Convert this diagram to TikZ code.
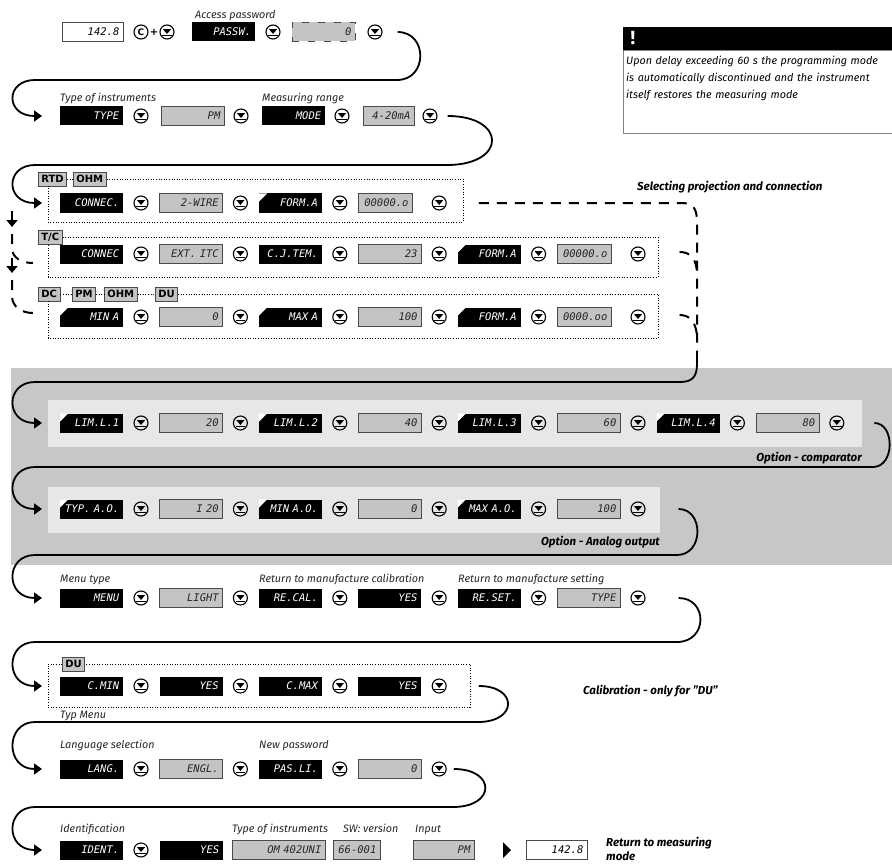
\documentclass[tikz,border=0pt]{standalone}
\usepackage{fontspec}
\setmainfont{Fira Sans}
\newfontfamily\segfont{DejaVu Sans Mono}
\newfontfamily\tagfont{DejaVu Sans}
\usetikzlibrary{
  arrows.meta,
  positioning,
  }

\definecolor{bandgray}{HTML}{C6C7C9}
\definecolor{bandlight}{HTML}{E6E7E8}
\definecolor{boxgray}{HTML}{C3C4C6}
\definecolor{boxedge}{HTML}{4A4A4A}

\begin{document}
\begin{tikzpicture}[x=1pt, y=-1pt,
    disp/.style={rectangle, anchor=west, minimum height=19pt, inner xsep=4pt, inner ysep=0pt,
      text width=#1, align=right, font=\segfont\itshape\fontsize{10.5}{10.5}\selectfont},
    disp/.default=55pt,
    blk/.style={disp=#1, fill=black, text=white},
    blk/.default=55pt,
    crn/.style={path picture={\fill[white] (path picture bounding box.north west)
      -- ++(8pt,0) -- ++(-8pt,-8pt) -- cycle;}},
    blkc/.style={blk=#1, crn},
    blkc/.default=55pt,
    gry/.style={disp=#1, fill=boxgray, draw=boxedge, line width=0.7pt, text=black!85},
    gry/.default=55pt,
    gryn/.style={gry=46pt},
    wht/.style={disp=#1, fill=white, draw=boxedge, line width=0.7pt},
    wht/.default=53pt,
    btn/.style={circle, draw, line width=1.1pt, minimum size=14pt, inner sep=0pt,
      path picture={
        \fill ([shift={(-4pt,2.8pt)}]path picture bounding box.center) -- ++(8pt,0) -- ++(-4pt,-4.8pt) -- cycle;
        \fill ([shift={(-4.8pt,-2.8pt)}]path picture bounding box.center) rectangle ++(9.6pt,-1.6pt);}},
    tag/.style={draw=boxedge, fill=boxgray, line width=0.7pt, anchor=west, inner xsep=3pt, inner ysep=0pt,
      minimum height=14pt, font=\tagfont\bfseries\fontsize{10}{10}\selectfont},
    frm/.style={line width=0.8pt, dash pattern=on 0.8pt off 1.8pt},
    lbl/.style={anchor=base west, inner sep=0pt, text=black!85, font=\itshape\fontsize{10.8}{12}\selectfont},
    note/.style={inner sep=0pt, font=\bfseries\itshape\fontsize{11.5}{15}\selectfont},
    conn/.style={line width=1.8pt, -{Triangle[length=8pt,width=11pt]}},
    arr/.style={line width=1.8pt, -{Triangle[length=7pt,width=11pt]}},
    dsh/.style={line width=2pt, dash pattern=on 10pt off 8pt},
  ]
\useasboundingbox (0,0) rectangle (892,864);

% option bands
\fill[bandgray] (11,368) rectangle (892,565);
\fill[bandlight] (48,400) rectangle (862,447);
\fill[bandlight] (48,487) rectangle (660,533);

% warning
\node[fill=black, anchor=north west, minimum width=269pt, minimum height=23pt, inner sep=0pt] (warnhd) at (623,27) {};
\node[text=white, anchor=west, font=\bfseries\fontsize{19}{19}\selectfont] (bang) at (627,38) {!};
\draw[gray, line width=0.8pt] (warnhd.south west) rectangle (892,133);
\node[anchor=north west, text width=262pt, align=left, inner sep=0pt,
  font=\itshape\fontsize{10.8}{17}\selectfont] (warn) at (626,56)
  {Upon delay exceeding 60 s the programming mode\\is automatically discontinued and the instrument\\itself restores the measuring mode};

% password
\node[lbl] (lpw) at (195,19) {Access password};
\node[wht] (mv) at (62,32) {142.8};
\node[circle, draw, line width=1.1pt, minimum size=14pt, inner sep=0pt,
  font=\tagfont\bfseries\fontsize{9}{9}\selectfont] (ckey) at (141,32) {C};
\node[font=\tagfont\bfseries] (plus) at (154,32) {+};
\node[btn] (pb0) at (167,32) {};
\node[blk] (pw) at (192,32) {PASSW.};
\node[btn] (pb1) at (273,32) {};
\node[gry, dash pattern=on 7pt off 9pt] (pwv) at (292,32) {0};
\node[btn] (pb2) at (375,32) {};

% type and range
\node[lbl] (lty) at (60,102) {Type of instruments};
\node[lbl] (lmd) at (262,102) {Measuring range};
\node[blk] (ty) at (60,116) {TYPE};
\node[btn] (tb0) at (141,116) {};
\node[gry] (tyv) at (161,116) {PM};
\node[btn] (tb1) at (241,116) {};
\node[blk] (md) at (262,116) {MODE};
\node[btn] (tb2) at (342,116) {};
\node[gry=43pt] (mdv) at (363,116) {4-20mA};
\node[btn] (tb3) at (430,116) {};

% RTD / OHM
\node[tag] (trtd) at (38,179) {RTD};
\node[tag] (tohm) at (73,179) {OHM};
\draw[frm] (trtd.east) -- (tohm.west);
\draw[frm] (tohm.east) -- (463,179) -- (463,222) -- (48,222) -- (48,186);
\foreach \t/\s [count=\i from 0] in {CONNEC./blk, 2-WIRE/gry, FORM.A/blkc, 00000.o/gryn}{
  \node[\s] (rtd\i) at ({60+99.4*\i},203) {\t};
  \node[btn] (rtdb\i) at ({141+99.4*\i},203) {};
}

% T/C
\node[tag] (ttc) at (38,237) {T/C};
\draw[frm] (ttc.east) -- (658,237) -- (658,277) -- (48,277) -- (48,244);
\foreach \t/\s [count=\i from 0] in {CONNEC/blk, EXT. ITC/gry, C.J.TEM./blk, 23/gry, FORM.A/blkc, 00000.o/gryn}{
  \node[\s] (tc\i) at ({60+99.4*\i},254) {\t};
  \node[btn] (tcb\i) at ({141+99.4*\i},254) {};
}

% DC / PM / OHM / DU
\node[tag] (tdc) at (38,294) {DC};
\node[tag] (tpm) at (72,294) {PM};
\node[tag] (tohm2) at (104,294) {OHM};
\node[tag] (tdu) at (155,294) {DU};
\draw[frm] (tdc.east) -- (tpm.west) (tpm.east) -- (tohm2.west) (tohm2.east) -- (tdu.west);
\draw[frm] (tdu.east) -- (658,294) -- (658,338) -- (48,338) -- (48,301);
\foreach \t/\s [count=\i from 0] in {MIN A/blkc, 0/gry, MAX A/blkc, 100/gry, FORM.A/blkc, 0000.oo/gryn}{
  \node[\s] (dc\i) at ({60+99.4*\i},317) {\t};
  \node[btn] (dcb\i) at ({141+99.4*\i},317) {};
}
\node[note, anchor=base west] (lsel) at (637,190) {Selecting projection and connection};

% comparator
\foreach \t/\s [count=\i from 0] in {LIM.L.1/blkc, 20/gry, LIM.L.2/blkc, 40/gry, LIM.L.3/blkc, 60/gry, LIM.L.4/blkc, 80/gry}{
  \node[\s] (lim\i) at ({60+99.4*\i},423) {\t};
  \node[btn] (limb\i) at ({141+99.4*\i},423) {};
}
\node[note, anchor=base east] (lcmp) at (862,461) {Option - comparator};

% analog output
\foreach \t/\s [count=\i from 0] in {TYP. A.O./blkc, I 20/gry, MIN A.O./blkc, 0/gry, MAX A.O./blkc, 100/gry}{
  \node[\s] (ao\i) at ({60+99.4*\i},509) {\t};
  \node[btn] (aob\i) at ({141+99.4*\i},509) {};
}
\node[note, anchor=base east] (laout) at (660,545) {Option - Analog output};

% menu, calibration, setting
\node[lbl] (lmn) at (60,582) {Menu type};
\node[lbl] (lcal) at (259,582) {Return to manufacture calibration};
\node[lbl] (lset) at (458,582) {Return to manufacture setting};
\foreach \t/\s [count=\i from 0] in {MENU/blk, LIGHT/gry, RE.CAL./blk, YES/blk, RE.SET./blk, TYPE/gry}{
  \node[\s] (mn\i) at ({60+99.4*\i},598) {\t};
  \node[btn] (mnb\i) at ({141+99.4*\i},598) {};
}

% DU calibration
\node[tag] (tdu2) at (62,664) {DU};
\draw[frm] (tdu2.west) -- (48,664) -- (48,707) -- (470,707) -- (470,664) -- (tdu2.east);
\foreach \t/\s [count=\i from 0] in {C.MIN/blk, YES/blk, C.MAX/blk, YES/blk}{
  \node[\s] (du\i) at ({60+99.4*\i},686) {\t};
  \node[btn] (dub\i) at ({141+99.4*\i},686) {};
}
\node[lbl] (ltyp) at (60,718) {Typ Menu};
\node[note, anchor=base west] (lcdu) at (583,694) {Calibration - only for ''DU''};

% language, password
\node[lbl] (llg) at (60,748) {Language selection};
\node[lbl] (lnp) at (259,748) {New password};
\foreach \t/\s [count=\i from 0] in {LANG./blk, ENGL./gry, PAS.LI./blk, 0/gry}{
  \node[\s] (lg\i) at ({60+99.4*\i},769) {\t};
  \node[btn] (lgb\i) at ({141+99.4*\i},769) {};
}

% identification
\node[lbl] (lid) at (60,832) {Identification};
\node[lbl] (lit) at (232,832) {Type of instruments};
\node[lbl] (lsw) at (343,832) {SW: version};
\node[lbl] (lin) at (415,832) {Input};
\node[blk] (id0) at (60,850) {IDENT.};
\node[btn] (idb0) at (141,850) {};
\node[blk] (id1) at (160,850) {YES};
\node[gry=85pt] (id2) at (232,850) {OM 402UNI};
\node[gry=39pt] (id3) at (333,850) {66-001};
\node[gry=53pt] (id4) at (413,850) {PM};
\coordinate (ret) at (503,850);
\fill (ret) ++(0,-8) -- ++(8,8) -- ++(-8,8) -- cycle;
\node[wht] (mv2) at (526,850) {142.8};
\node[note, anchor=west, align=left, font=\bfseries\itshape\fontsize{11.5}{14}\selectfont] (lret) at (606,849) {Return to measuring\\mode};

% flow
\draw[conn] ([xshift=15pt]pb2.east) .. controls (428,32) and (428,80) .. (397,80)
  -- (35,80) .. controls (5,80) and (5,116) .. ([xshift=-18pt]ty.west);
\draw[conn] ([xshift=10pt]tb3.east) .. controls (507,116) and (507,165) .. (447,165)
  -- (35,165) .. controls (5,165) and (5,203) .. ([xshift=-18pt]rtd0.west);
\draw[arr] (12,211) -- (12,227);
\draw[dsh] (12,234) -- (12,248) .. controls (12,258) and (22,263) .. ([xshift=-27pt,yshift=-9pt]tc0.west);
\draw[arr] (12,258) -- (12,273);
\draw[dsh] (12,280) -- (12,296) .. controls (12,307) and (22,313) .. ([xshift=-27pt,yshift=4pt]dc0.west);
\draw[dsh] ([xshift=32pt]rtdb3.east) -- (682,203) .. controls (694,203) and (697,210) .. (697,222) -- (697,352);
\draw[dsh] ([xshift=34pt,yshift=2pt]tcb5.east) .. controls (690,252) and (697,258) .. (697,275);
\draw[dsh] ([xshift=34pt,yshift=2pt]dcb5.east) .. controls (690,315) and (697,322) .. (697,340);
\coordinate (selend) at (697,352);
\draw[conn] (selend) -- (697,364) .. controls (697,377) and (692,382) .. (680,382)
  -- (35,382) .. controls (5,382) and (5,423) .. ([xshift=-18pt]lim0.west);
\draw[conn] ([xshift=30pt]limb7.east) .. controls (895,423) and (895,467) .. (873,467)
  -- (35,467) .. controls (5,467) and (5,509) .. ([xshift=-18pt]ao0.west);
\draw[conn] ([xshift=33pt]aob5.east) .. controls (704,509) and (704,555) .. (677,555)
  -- (35,555) .. controls (5,555) and (5,598) .. ([xshift=-18pt]mn0.west);
\draw[conn] ([xshift=33pt]mnb5.east) .. controls (708,598) and (708,642) .. (677,642)
  -- (35,642) .. controls (5,642) and (5,686) .. ([xshift=-18pt]du0.west);
\draw[conn] ([xshift=32pt]dub3.east) .. controls (518,686) and (518,722) .. (478,722)
  -- (35,722) .. controls (5,722) and (5,769) .. ([xshift=-18pt]lg0.west);
\draw[conn] ([xshift=7pt]lgb3.east) .. controls (496,769) and (496,807) .. (453,807)
  -- (35,807) .. controls (5,807) and (5,850) .. ([xshift=-18pt]id0.west);
\end{tikzpicture}
\end{document}
